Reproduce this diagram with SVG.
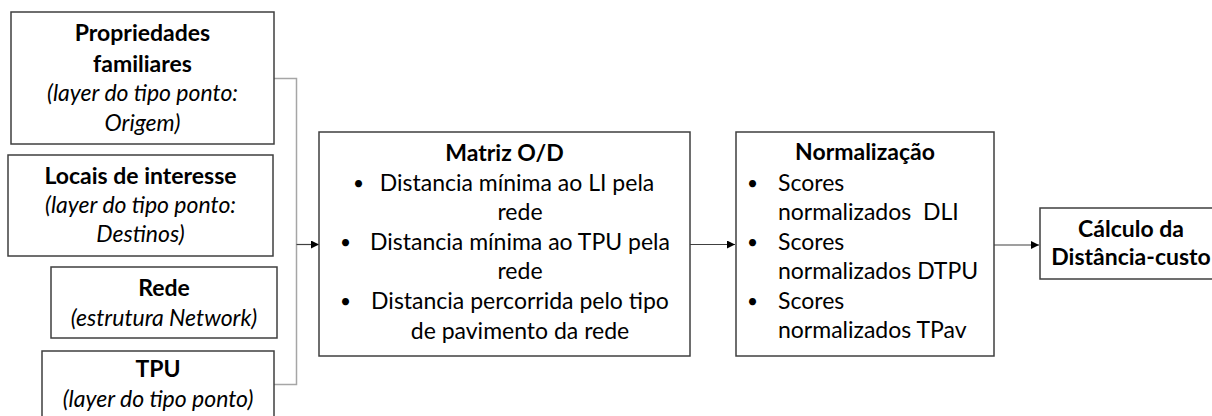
<svg xmlns="http://www.w3.org/2000/svg" width="1212" height="416" viewBox="0 0 1212 416">
<style>
.box{fill:#fff;stroke:#3f3f3f;stroke-width:1.5}
text{font-family:Lato,"Liberation Sans",sans-serif;font-size:23px;fill:#000}
.b{font-weight:bold}
.i{font-style:italic}
.c{text-anchor:middle}
.dot{font-size:19px}
.br{fill:none;stroke:#a6a6a6;stroke-width:1.5}
.ar{fill:none;stroke:#404040;stroke-width:1.2;marker-end:url(#ah)}
</style>
<defs>
<marker id="ah" viewBox="0 0 10 10" refX="10" refY="5" markerWidth="8" markerHeight="8" markerUnits="userSpaceOnUse" orient="auto">
<path d="M0,0 L10,5 L0,10 z" fill="#000"/>
</marker>
</defs>
<rect width="1212" height="416" fill="#fff"/>
<g id="connectors">
<path class="br" d="M274,78.5 H296.5 V384.5 H274"/>
<path class="ar" d="M296.5,244.5 H319"/>
<path class="ar" d="M690,244.5 H735"/>
<path class="ar" d="M994,245 H1039"/>
</g>
<g id="n1">
<rect class="box" x="11" y="12" width="263" height="132"/>
<text class="b c" x="142.5" y="41">Propriedades</text>
<text class="b c" x="142.5" y="72">familiares</text>
<text class="i c" x="142.5" y="101">(layer do tipo ponto:</text>
<text class="i c" x="142.5" y="131">Origem)</text>
</g>
<g id="n2">
<rect class="box" x="8" y="155" width="265" height="101"/>
<text class="b c" x="140.5" y="184">Locais de interesse</text>
<text class="i c" x="140.5" y="213">(layer do tipo ponto:</text>
<text class="i c" x="140.5" y="242">Destinos)</text>
</g>
<g id="n3">
<rect class="box" x="51" y="267" width="226" height="71"/>
<text class="b c" x="164" y="296">Rede</text>
<text class="i c" x="164" y="326">(estrutura Network)</text>
</g>
<g id="n4">
<rect class="box" x="42" y="351" width="232" height="80"/>
<text class="b c" x="158" y="377">TPU</text>
<text class="i c" x="158" y="407">(layer do tipo ponto)</text>
</g>
<g id="n5">
<rect class="box" x="319" y="132" width="371" height="224"/>
<text class="b c" x="504.5" y="161">Matriz O/D</text>
<text class="dot" x="353" y="190">•</text>
<text class="c" x="517" y="191">Distancia mínima ao LI pela</text>
<text class="c" x="520" y="220">rede</text>
<text class="dot" x="340" y="249">•</text>
<text class="c" x="520" y="250">Distancia mínima ao TPU pela</text>
<text class="c" x="520" y="279">rede</text>
<text class="dot" x="340" y="308">•</text>
<text class="c" x="520" y="309">Distancia percorrida pelo tipo</text>
<text class="c" x="520" y="339">de pavimento da rede</text>
</g>
<g id="n6">
<rect class="box" x="736" y="132" width="258" height="224"/>
<text class="b c" x="865" y="160">Normalização</text>
<text class="dot" x="747" y="190">•</text>
<text x="778" y="191">Scores</text>
<text x="778" y="220" xml:space="preserve">normalizados  DLI</text>
<text class="dot" x="747" y="249">•</text>
<text x="778" y="250">Scores</text>
<text x="778" y="279">normalizados DTPU</text>
<text class="dot" x="747" y="308">•</text>
<text x="778" y="309">Scores</text>
<text x="778" y="338">normalizados TPav</text>
</g>
<g id="n7">
<rect class="box" x="1040" y="208" width="182" height="71"/>
<text class="b c" x="1131" y="237">Cálculo da</text>
<text class="b c" x="1131" y="265">Distância-custo</text>
</g>
</svg>
